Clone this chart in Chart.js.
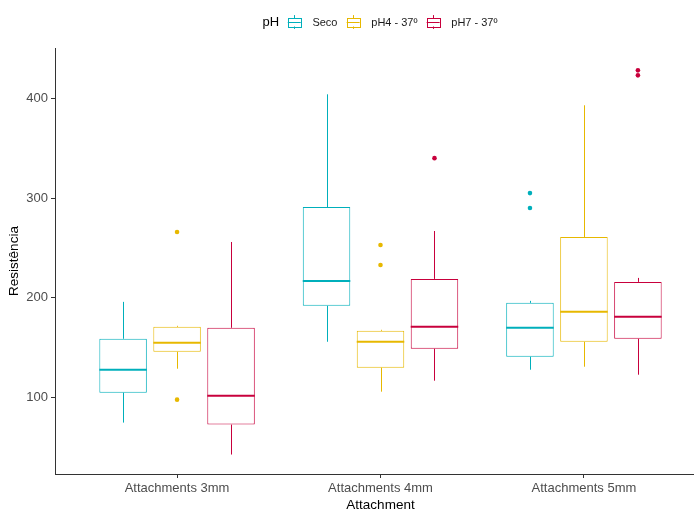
<!DOCTYPE html>
<html>
<head>
<meta charset="utf-8">
<script src="https://cdn.jsdelivr.net/npm/chart.js@4"></script>
<style>
  html, body { margin: 0; padding: 0; background: #fff; overflow: hidden; }
  #wrap { width: 694px; height: 512px; overflow: hidden; }
</style>
</head>
<body>
<div id="wrap"><canvas id="chart" width="712" height="512"></canvas></div>
<script>
// data
const categories = ["Attachments 3mm", "Attachments 4mm", "Attachments 5mm"];
const seriesNames = ["Seco", "pH4 - 37º", "pH7 - 37º"];
const colors = ["#00AFBB", "#E7B800", "#C8003C"];
const yTicks = [100, 200, 300, 400];

// one row per series, one column per category
const lowers  = [[75, 156, 128], [129, 106, 131], [43, 117, 123]];
const q1s     = [[105, 192, 141], [146, 130, 156], [73, 149, 159]];
const medians = [[128, 217, 170], [155, 156, 186], [102, 171, 181]];
const q3s     = [[159, 291, 195], [171, 167, 261], [170, 219, 216]];
const uppers  = [[196, 404, 197], [172, 168, 393], [256, 267, 220]];
const outliers = [
  [[], [], [305, 290]],
  [[266, 98], [253, 233], []],
  [[], [340], [428, 423]]
];

const FONT = "'Liberation Sans', Arial, sans-serif";

const datasets = seriesNames.map((name, s) => ({
  label: name,
  data: categories.map((c, i) => ({ x: i + 1, y: [q1s[s][i], q3s[s][i]] })),
  backgroundColor: "#ffffff",
  borderColor: colors[s],
  borderWidth: 1,
  borderSkipped: false,
  categoryPercentage: 0.796,
  barPercentage: 0.88
}));

// medians, whiskers and outlier points, placed on the drawn boxes
const boxExtras = {
  id: "boxExtras",
  afterDatasetsDraw(chart) {
    const ctx = chart.ctx;
    const y = chart.scales.y;
    ctx.save();
    seriesNames.forEach((name, s) => {
      const meta = chart.getDatasetMeta(s);
      meta.data.forEach((bar, i) => {
        const x = Math.round(bar.x) + 0.5;
        const half = bar.width / 2;
        ctx.strokeStyle = colors[s];
        ctx.lineWidth = 1;
        ctx.beginPath();
        ctx.moveTo(x, y.getPixelForValue(q3s[s][i]));
        ctx.lineTo(x, y.getPixelForValue(uppers[s][i]));
        ctx.moveTo(x, y.getPixelForValue(q1s[s][i]));
        ctx.lineTo(x, y.getPixelForValue(lowers[s][i]));
        ctx.stroke();
        ctx.lineWidth = 2;
        ctx.beginPath();
        const my = y.getPixelForValue(medians[s][i]);
        ctx.moveTo(bar.x - half, my);
        ctx.lineTo(bar.x + half, my);
        ctx.stroke();
        ctx.fillStyle = colors[s];
        outliers[s][i].forEach(v => {
          ctx.beginPath();
          ctx.arc(bar.x, y.getPixelForValue(v), 2.3, 0, Math.PI * 2);
          ctx.fill();
        });
      });
    });
    ctx.restore();
  }
};

// ggplot style legend on top: "pH" then boxplot keys
const topLegend = {
  id: "topLegend",
  afterDraw(chart) {
    const ctx = chart.ctx;
    const cy = 22;
    const key = 17.3;
    ctx.save();
    ctx.textBaseline = "middle";
    ctx.font = "13px " + FONT;
    const titleW = ctx.measureText("pH").width;
    ctx.font = "11px " + FONT;
    const labelW = seriesNames.map(n => ctx.measureText(n).width);
    let total = titleW + 6.5;
    labelW.forEach((w, k) => { total += key + 9.5 + w + (k < labelW.length - 1 ? 7 : 0); });
    let x = 380 - total / 2;
    ctx.fillStyle = "#000";
    ctx.font = "13px " + FONT;
    ctx.fillText("pH", x, cy + 0.5);
    x += titleW + 6.5;
    ctx.font = "11px " + FONT;
    seriesNames.forEach((name, s) => {
      const bx = x + key * 0.125, bw = key * 0.75;
      const top = cy - key * 0.25, bot = cy + key * 0.25;
      ctx.strokeStyle = colors[s];
      ctx.lineWidth = 1;
      ctx.fillStyle = "#fff";
      ctx.fillRect(bx, top, bw, bot - top);
      ctx.strokeRect(Math.round(bx) + 0.5, Math.round(top) + 0.5, Math.round(bw), Math.round(bot - top));
      const mx = Math.round(x + key / 2) + 0.5;
      ctx.beginPath();
      ctx.moveTo(mx, Math.round(top) + 0.5);
      ctx.lineTo(mx, cy - key * 0.4);
      ctx.moveTo(mx, Math.round(bot) + 0.5);
      ctx.lineTo(mx, cy + key * 0.4);
      ctx.moveTo(bx, Math.round(cy) + 0.5);
      ctx.lineTo(bx + bw, Math.round(cy) + 0.5);
      ctx.stroke();
      x += key + 9.5;
      ctx.fillStyle = "#1a1a1a";
      ctx.fillText(name, x, cy + 0.5);
      x += labelW[s] + 7;
    });
    ctx.restore();
  }
};

new Chart(document.getElementById("chart"), {
  type: "bar",
  data: { datasets },
  plugins: [boxExtras, topLegend],
  options: {
    responsive: false,
    animation: false,
    events: [],
    layout: { padding: { top: 48, right: 6, bottom: 0, left: 0 } },
    plugins: { legend: { display: false }, tooltip: { enabled: false } },
    scales: {
      x: {
        type: "linear",
        min: 0.4,
        max: 3.6,
        offset: false,
        afterBuildTicks: scale => { scale.ticks = categories.map((c, i) => ({ value: i + 1 })); },
        afterFit: scale => { scale.height = 38; },
        grid: { display: true, offset: false, drawOnChartArea: false, drawTicks: true, tickLength: 4, color: "#333" },
        border: { display: true, color: "#333", width: 1 },
        ticks: {
          padding: 3,
          color: "#4D4D4D",
          font: { family: FONT, size: 13 },
          maxRotation: 0,
          autoSkip: false,
          callback: v => categories[v - 1]
        },
        title: {
          display: true,
          text: "Attachment",
          color: "#000",
          font: { family: FONT, size: 13.5, lineHeight: 1 },
          padding: { top: 0, bottom: 0 }
        }
      },
      y: {
        min: 23.5,
        max: 450.4,
        afterBuildTicks: scale => { scale.ticks = yTicks.map(v => ({ value: v })); },
        afterFit: scale => { scale.width = 55; },
        grid: { display: true, drawOnChartArea: false, drawTicks: true, tickLength: 4, color: "#333" },
        border: { display: true, color: "#333", width: 1 },
        ticks: {
          padding: 3,
          color: "#4D4D4D",
          font: { family: FONT, size: 13 }
        },
        title: {
          display: true,
          text: "Resistência",
          color: "#000",
          font: { family: FONT, size: 13.5, lineHeight: 1 },
          padding: { top: 8, bottom: 0 }
        }
      }
    }
  }
});
</script>
</body>
</html>
